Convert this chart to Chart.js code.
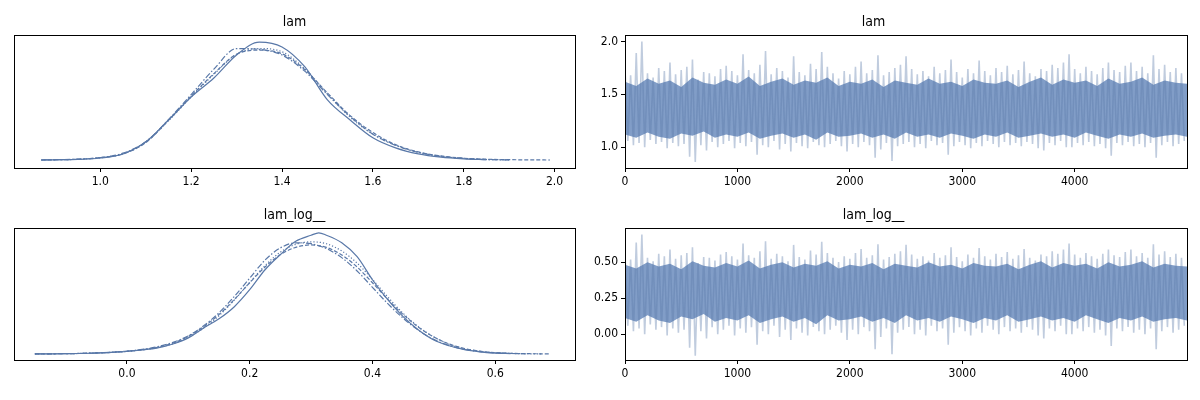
<!DOCTYPE html>
<html>
<head>
<meta charset="utf-8">
<script src="https://cdn.jsdelivr.net/npm/chart.js@4/dist/chart.umd.min.js"></script>
<style>
  body { margin: 0; background: #fff; }
  #wrap { position: relative; width: 1200px; height: 400px; }
  .cell { position: absolute; height: 200px; }
</style>
</head>
<body>
<div id="wrap">
  <div class="cell" style="left:0;top:0;width:600px"><canvas id="kdeLam" width="600" height="200"></canvas></div>
  <div class="cell" style="left:0;top:200px;width:600px"><canvas id="kdeLog" width="600" height="200"></canvas></div>
  <div class="cell" style="left:560px;top:0;width:640px"><canvas id="traceLam" width="640" height="200"></canvas></div>
  <div class="cell" style="left:560px;top:200px;width:640px"><canvas id="traceLog" width="640" height="200"></canvas></div>
</div>
<script>
// ---- KDE of lam, one curve per chain ----
const lamGrid = [0.87, 0.90, 0.95, 1.00, 1.05, 1.10, 1.15, 1.20, 1.25, 1.30, 1.35, 1.40,
                 1.45, 1.50, 1.55, 1.60, 1.65, 1.70, 1.75, 1.80, 1.85, 1.90, 1.95, 1.99];
const lamKde0 = [0.00, 0.005, 0.015, 0.05, 0.15, 0.45, 0.99, 1.56, 2.03, 2.60, 2.92, 2.80,
                 2.31, 1.49, 0.99, 0.55, 0.30, 0.15, 0.07, 0.03, 0.01, null, null, null];
const lamKde1 = [0.00, 0.006, 0.018, 0.06, 0.15, 0.43, 0.98, 1.58, 2.14, 2.62, 2.72, 2.63,
                 2.24, 1.66, 1.10, 0.68, 0.38, 0.20, 0.10, 0.045, 0.02, 0.008, 0.003, 0.00];
const lamKde2 = [0.00, 0.008, 0.02, 0.06, 0.17, 0.45, 1.00, 1.62, 2.25, 2.76, 2.74, 2.60,
                 2.20, 1.62, 1.08, 0.64, 0.36, 0.19, 0.09, 0.04, 0.01, 0.004, null, null];
const lamKde3 = [0.00, 0.005, 0.016, 0.055, 0.15, 0.44, 0.97, 1.56, 2.12, 2.62, 2.76, 2.68,
                 2.26, 1.64, 1.06, 0.64, 0.37, 0.19, 0.09, 0.04, 0.012, 0.004, null, null];
const lamTicks = [1.0, 1.2, 1.4, 1.6, 1.8, 2.0];

// ---- KDE of lam_log__ ----
const logGrid = [-0.15, -0.125, -0.10, -0.075, -0.05, -0.025, 0.00, 0.025, 0.05, 0.075, 0.10, 0.125,
                 0.15, 0.175, 0.20, 0.225, 0.25, 0.275, 0.30, 0.3125, 0.325, 0.35, 0.375, 0.40, 0.425,
                 0.45, 0.475, 0.50, 0.525, 0.55, 0.575, 0.60, 0.625, 0.65, 0.675, 0.69];
const logKde0 = [0.000, 0.004, 0.008, 0.015, 0.03, 0.05, 0.08, 0.13, 0.20, 0.33, 0.53, 0.86,
                 1.16, 1.56, 2.12, 2.78, 3.28, 3.72, 3.92, 4.00, 3.92, 3.67, 3.21, 2.45, 1.79,
                 1.23, 0.79, 0.46, 0.27, 0.14, 0.07, 0.03, 0.01, null, null, null];
const logKde1 = [0.000, 0.004, 0.009, 0.017, 0.032, 0.055, 0.09, 0.14, 0.22, 0.36, 0.58, 0.90,
                 1.30, 1.80, 2.35, 2.87, 3.28, 3.52, 3.60, 3.58, 3.52, 3.27, 2.87, 2.35, 1.80,
                 1.30, 0.88, 0.56, 0.33, 0.18, 0.09, 0.045, 0.02, 0.01, 0.004, 0.00];
const logKde2 = [0.000, 0.005, 0.010, 0.019, 0.035, 0.06, 0.095, 0.15, 0.24, 0.38, 0.60, 0.93,
                 1.36, 1.90, 2.50, 3.10, 3.50, 3.67, 3.64, 3.57, 3.48, 3.18, 2.74, 2.20, 1.66,
                 1.18, 0.78, 0.48, 0.28, 0.15, 0.075, 0.035, 0.015, 0.005, null, null];
const logKde3 = [0.000, 0.004, 0.008, 0.016, 0.03, 0.052, 0.085, 0.135, 0.21, 0.34, 0.55, 0.86,
                 1.26, 1.78, 2.36, 2.92, 3.36, 3.62, 3.70, 3.69, 3.64, 3.40, 3.00, 2.46, 1.88,
                 1.34, 0.90, 0.56, 0.32, 0.17, 0.085, 0.04, 0.018, 0.007, 0.002, null];
const logTicks = [0.0, 0.2, 0.4, 0.6];

// ---- trace: spike extremes read every 50 draws ----
const spikeDraws = Array.from({length: 100}, (_, i) => i * 50);
const lamHigh = [1.74, 1.68, 1.89, 2.00, 1.70, 1.66, 1.75, 1.72, 1.80, 1.69,
                 1.73, 1.76, 1.83, 1.64, 1.71, 1.70, 1.67, 1.74, 1.77, 1.72,
                 1.68, 1.88, 1.73, 1.70, 1.78, 1.91, 1.69, 1.75, 1.72, 1.66,
                 1.86, 1.71, 1.68, 1.79, 1.74, 1.90, 1.76, 1.70, 1.65, 1.72,
                 1.69, 1.76, 1.81, 1.70, 1.73, 1.87, 1.68, 1.71, 1.75, 1.78,
                 1.86, 1.74, 1.69, 1.72, 1.67, 1.76, 1.70, 1.73, 1.83, 1.71,
                 1.66, 1.74, 1.70, 1.82, 1.72, 1.68, 1.75, 1.71, 1.77, 1.69,
                 1.73, 1.81, 1.70, 1.67, 1.74, 1.72, 1.78, 1.75, 1.80, 1.88,
                 1.74, 1.70, 1.76, 1.72, 1.69, 1.75, 1.80, 1.73, 1.71, 1.77,
                 1.80, 1.72, 1.76, 1.70, 1.87, 1.74, 1.78, 1.71, 1.75, 1.70];
const lamLow = [1.06, 1.02, 1.04, 1.00, 1.07, 1.03, 1.05, 0.99, 1.04, 1.01,
                1.03, 0.91, 0.86, 1.02, 0.97, 1.05, 1.00, 1.03, 1.06, 0.99,
                1.04, 1.01, 1.05, 0.93, 1.02, 1.00, 1.06, 0.98, 1.03, 0.96,
                1.04, 1.01, 0.99, 1.05, 1.02, 1.00, 1.03, 1.06, 1.01, 0.96,
                1.03, 1.00, 1.05, 1.02, 0.90, 0.98, 1.04, 0.87, 1.01, 1.03,
                1.05, 1.00, 1.03, 0.99, 1.06, 1.02, 1.04, 0.93, 1.01, 1.05,
                1.02, 0.99, 1.04, 1.01, 1.06, 1.03, 1.00, 1.05, 1.02, 1.04,
                1.01, 1.05, 1.03, 0.99, 0.97, 1.04, 1.02, 1.06, 1.00, 1.00,
                1.04, 1.02, 1.05, 1.01, 1.03, 0.99, 0.92, 1.04, 1.02, 1.05,
                1.01, 1.03, 1.00, 1.04, 0.90, 1.02, 1.05, 1.01, 1.03, 1.06];
const logHigh = [0.554, 0.519, 0.637, 0.693, 0.531, 0.507, 0.560, 0.542, 0.588, 0.525,
                 0.548, 0.565, 0.604, 0.495, 0.536, 0.531, 0.513, 0.554, 0.571, 0.542,
                 0.519, 0.631, 0.548, 0.531, 0.577, 0.647, 0.525, 0.560, 0.542, 0.507,
                 0.621, 0.536, 0.519, 0.582, 0.554, 0.642, 0.565, 0.531, 0.501, 0.542,
                 0.525, 0.565, 0.593, 0.531, 0.548, 0.626, 0.519, 0.536, 0.560, 0.577,
                 0.621, 0.554, 0.525, 0.542, 0.513, 0.565, 0.531, 0.548, 0.604, 0.536,
                 0.507, 0.554, 0.531, 0.599, 0.542, 0.519, 0.560, 0.536, 0.571, 0.525,
                 0.548, 0.593, 0.531, 0.513, 0.554, 0.542, 0.577, 0.560, 0.588, 0.631,
                 0.554, 0.531, 0.565, 0.542, 0.525, 0.560, 0.588, 0.548, 0.536, 0.571,
                 0.588, 0.542, 0.565, 0.531, 0.626, 0.554, 0.577, 0.536, 0.560, 0.531];
const logLow = [0.058, 0.020, 0.039, 0.000, 0.068, 0.030, 0.049, -0.010, 0.039, 0.010,
                0.030, -0.094, -0.151, 0.020, -0.030, 0.049, 0.000, 0.030, 0.058, -0.010,
                0.039, 0.010, 0.049, -0.073, 0.020, 0.000, 0.058, -0.020, 0.030, -0.041,
                0.039, 0.010, -0.010, 0.049, 0.020, 0.000, 0.030, 0.058, 0.010, -0.041,
                0.030, 0.000, 0.049, 0.020, -0.105, -0.020, 0.039, -0.139, 0.010, 0.030,
                0.049, 0.000, 0.030, -0.010, 0.058, 0.020, 0.039, -0.073, 0.010, 0.049,
                0.020, -0.010, 0.039, 0.010, 0.058, 0.030, 0.000, 0.049, 0.020, 0.039,
                0.010, 0.049, 0.030, -0.010, -0.030, 0.039, 0.020, 0.058, 0.000, 0.000,
                0.039, 0.020, 0.049, 0.010, 0.030, -0.010, -0.083, 0.039, 0.020, 0.049,
                0.010, 0.030, 0.000, 0.039, -0.105, 0.020, 0.049, 0.010, 0.030, 0.058];

// ---- trace: edge of the dense band, read every 100 draws ----
const bandDraws = Array.from({length: 50}, (_, i) => i * 100).concat([4999]);
const lamBandHigh = [1.62, 1.58, 1.65, 1.60, 1.63, 1.57, 1.66, 1.61, 1.59, 1.64,
                     1.60, 1.67, 1.58, 1.62, 1.65, 1.59, 1.63, 1.61, 1.66, 1.58,
                     1.62, 1.60, 1.64, 1.57, 1.63, 1.61, 1.59, 1.65, 1.60, 1.62,
                     1.58, 1.64, 1.61, 1.60, 1.63, 1.57, 1.62, 1.66, 1.59, 1.64,
                     1.61, 1.63, 1.58, 1.65, 1.60, 1.62, 1.66, 1.59, 1.63, 1.61, 1.60];
const lamBandLow = [1.12, 1.09, 1.14, 1.10, 1.08, 1.13, 1.11, 1.15, 1.09, 1.12,
                    1.10, 1.14, 1.08, 1.11, 1.13, 1.09, 1.12, 1.07, 1.14, 1.10,
                    1.11, 1.13, 1.09, 1.12, 1.08, 1.14, 1.10, 1.12, 1.09, 1.13,
                    1.11, 1.08, 1.12, 1.10, 1.14, 1.09, 1.11, 1.13, 1.10, 1.12,
                    1.09, 1.14, 1.11, 1.08, 1.12, 1.10, 1.13, 1.09, 1.11, 1.12, 1.10];
const logBandHigh = [0.482, 0.457, 0.501, 0.470, 0.489, 0.451, 0.507, 0.476, 0.464, 0.495,
                     0.470, 0.513, 0.457, 0.482, 0.501, 0.464, 0.489, 0.476, 0.507, 0.457,
                     0.482, 0.470, 0.495, 0.451, 0.489, 0.476, 0.464, 0.501, 0.470, 0.482,
                     0.457, 0.495, 0.476, 0.470, 0.489, 0.451, 0.482, 0.507, 0.464, 0.495,
                     0.476, 0.489, 0.457, 0.501, 0.470, 0.482, 0.507, 0.464, 0.489, 0.476, 0.470];
const logBandLow = [0.113, 0.086, 0.131, 0.095, 0.077, 0.122, 0.104, 0.140, 0.086, 0.113,
                    0.095, 0.131, 0.077, 0.104, 0.122, 0.086, 0.113, 0.068, 0.131, 0.095,
                    0.104, 0.122, 0.086, 0.113, 0.077, 0.131, 0.095, 0.113, 0.086, 0.122,
                    0.104, 0.077, 0.113, 0.095, 0.131, 0.086, 0.104, 0.122, 0.095, 0.113,
                    0.086, 0.131, 0.104, 0.077, 0.113, 0.095, 0.122, 0.086, 0.104, 0.113, 0.095];

const drawTicks = [0, 1000, 2000, 3000, 4000];
const lamTraceTicks = [1.0, 1.5, 2.0];
const logTraceTicks = [0.0, 0.25, 0.5];

const BLUE = 'rgb(89,120,168)';
const FONT = "'Liberation Sans Narrow', 'DejaVu Sans Condensed', 'Roboto Condensed', sans-serif";
Chart.defaults.font.family = FONT;
Chart.defaults.color = '#000';

const boxPlugin = {
  id: 'box',
  afterDraw(chart) {
    const a = chart.chartArea, c = chart.ctx;
    c.save();
    c.strokeStyle = '#000';
    c.lineWidth = 1;
    c.strokeRect(Math.round(a.left) + 0.5, Math.round(a.top) + 0.5,
                 Math.round(a.right - a.left), Math.round(a.bottom - a.top));
    c.restore();
  }
};

function xAxis(min, max, ticks, digits, h) {
  return {
    type: 'linear', min: min, max: max, offset: false,
    afterBuildTicks: s => { s.ticks = ticks.map(v => ({value: v})); },
    afterFit: s => { s.height = h; },
    ticks: { font: {size: 12}, padding: 3, maxRotation: 0,
             callback: v => digits < 0 ? String(v) : Number(v).toFixed(digits) },
    grid: { drawOnChartArea: false, drawTicks: true, tickLength: 4, tickColor: '#000' },
    border: { display: false }
  };
}

function yTrace(min, max, ticks, digits) {
  return {
    type: 'linear', min: min, max: max,
    afterBuildTicks: s => { s.ticks = ticks.map(v => ({value: v})); },
    afterFit: s => { s.width = 65; },
    ticks: { font: {size: 12}, padding: 3, callback: v => Number(v).toFixed(digits) },
    grid: { drawOnChartArea: false, drawTicks: true, tickLength: 4, tickColor: '#000' },
    border: { display: false }
  };
}

function titleOpt(text, top, bottom) {
  return { display: true, text: text, color: '#000',
           font: {size: 14, weight: 'normal'}, padding: {top: top, bottom: bottom} };
}

function kdeSets(grid, chains) {
  const dashes = [[], [4, 2], [6, 2, 1.5, 2], [1.2, 2]];
  return chains.map((d, k) => ({
    data: grid.map((x, i) => ({x: x, y: d[i]})),
    borderColor: BLUE, borderWidth: 1.2, borderDash: dashes[k],
    pointRadius: 0, cubicInterpolationMode: 'monotone', spanGaps: false, fill: false
  }));
}

function kdeChart(id, title, tTop, tBot, xmin, xmax, ticks, ymin, ymax, xh, grid, chains) {
  new Chart(document.getElementById(id), {
    type: 'line',
    data: { datasets: kdeSets(grid, chains) },
    options: {
      responsive: false, animation: false,
      layout: { padding: {left: 14, right: 25, top: 0, bottom: 0} },
      plugins: { legend: {display: false}, tooltip: {enabled: false},
                 title: titleOpt(title, tTop, tBot) },
      scales: { x: xAxis(xmin, xmax, ticks, 1, xh), y: {display: false, min: ymin, max: ymax} }
    },
    plugins: [boxPlugin]
  });
}

function traceChart(id, title, tTop, tBot, ymin, ymax, yticks, digits, xh, hi, lo, bandHi, bandLo) {
  // zigzag: each spike top followed by the spike bottom half a step later
  const zig = [];
  spikeDraws.forEach((x, i) => { zig.push({x: x, y: hi[i]}); zig.push({x: x + 25, y: lo[i]}); });
  new Chart(document.getElementById(id), {
    type: 'line',
    data: {
      datasets: [
        { data: zig, borderColor: 'rgba(89,120,168,0.38)', borderWidth: 1.6,
          pointRadius: 0, fill: false, tension: 0 },
        { data: bandDraws.map((x, i) => ({x: x, y: bandHi[i]})),
          borderWidth: 0, borderColor: 'rgba(0,0,0,0)', pointRadius: 0, fill: false, tension: 0 },
        { data: bandDraws.map((x, i) => ({x: x, y: bandLo[i]})),
          borderWidth: 0, borderColor: 'rgba(0,0,0,0)', pointRadius: 0, fill: '-1', tension: 0,
          backgroundColor: 'rgba(122,152,196,0.95)' }
      ]
    },
    options: {
      responsive: false, animation: false,
      layout: { padding: {left: 0, right: 13, top: 0, bottom: 0} },
      plugins: { legend: {display: false}, tooltip: {enabled: false},
                 title: titleOpt(title, tTop, tBot) },
      scales: { x: xAxis(0, 4999, drawTicks, -1, xh), y: yTrace(ymin, ymax, yticks, digits) }
    },
    plugins: [boxPlugin]
  });
}

kdeChart('kdeLam', 'lam', 14, 4, 0.810, 2.045, lamTicks, -0.198, 3.10, 32,
         lamGrid, [lamKde0, lamKde1, lamKde2, lamKde3]);
kdeChart('kdeLog', 'lam_log__', 7, 4, -0.184, 0.730, logTicks, -0.20, 4.165, 40,
         logGrid, [logKde0, logKde1, logKde2, logKde3]);
traceChart('traceLam', 'lam', 14, 4, 0.804, 2.063, lamTraceTicks, 1, 32,
           lamHigh, lamLow, lamBandHigh, lamBandLow);
traceChart('traceLog', 'lam_log__', 7, 4, -0.18, 0.74, logTraceTicks, 2, 40,
           logHigh, logLow, logBandHigh, logBandLow);
</script>
</body>
</html>
